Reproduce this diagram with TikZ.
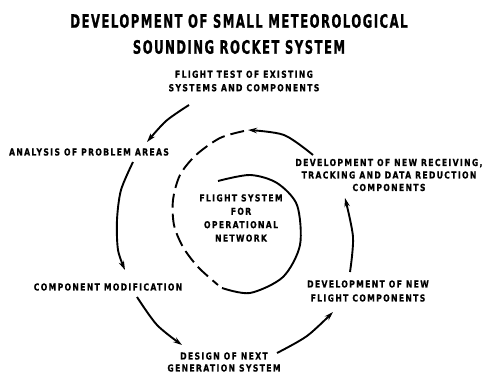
\documentclass[tikz,border=0pt]{standalone}
\usepackage{fontspec}
\usetikzlibrary{arrows.meta}
\newfontfamily\lblfont{DejaVu Sans}[FakeStretch=0.8,LetterSpace=14,BoldFeatures={FakeBold=0.6}]
\newfontfamily\ttlfont{DejaVu Sans}[FakeStretch=0.63,LetterSpace=8,BoldFeatures={FakeBold=0.9}]
\tikzset{
  lbl/.style={font=\lblfont\bfseries\fontsize{9.6}{13.5}\selectfont, align=center, inner sep=0pt},
  ttl/.style={font=\ttlfont\bfseries\fontsize{18.5}{26}\selectfont, align=center, inner sep=0pt},
  flow/.style={line width=1.9pt, -{Stealth[length=9pt,width=5.5pt]}},
  ring/.style={line width=1.9pt},
  dashring/.style={line width=1.9pt, dash pattern=on 14pt off 6pt}
}
\begin{document}
\begin{tikzpicture}[x=1pt,y=-1pt]
\useasboundingbox (0,0) rectangle (482,375);
\node[ttl] (title) at (239,34) {DEVELOPMENT OF SMALL METEOROLOGICAL\\SOUNDING ROCKET SYSTEM};
\node[lbl] (test) at (244,81) {FLIGHT TEST OF EXISTING\\SYSTEMS AND COMPONENTS};
\node[lbl] (analysis) at (89,152) {ANALYSIS OF PROBLEM AREAS};
\node[lbl, font=\lblfont\bfseries\fontsize{9.6}{13.4}\selectfont] (core) at (241,218) {FLIGHT SYSTEM\\FOR\\OPERATIONAL\\NETWORK};
\node[lbl, font=\lblfont\bfseries\fontsize{9.6}{12.5}\selectfont] (recv) at (389,175) {DEVELOPMENT OF NEW RECEIVING,\\TRACKING AND DATA REDUCTION\\COMPONENTS};
\node[lbl, font=\lblfont\bfseries\fontsize{9.6}{14}\selectfont] (newflt) at (368,291) {DEVELOPMENT OF NEW\\FLIGHT COMPONENTS};
\node[lbl] (compmod) at (108,287) {COMPONENT MODIFICATION};
\node[lbl, font=\lblfont\bfseries\fontsize{9.6}{12}\selectfont] (design) at (224,362) {DESIGN OF NEXT\\GENERATION SYSTEM};

\coordinate (a1s) at (189,105); \coordinate (a1e) at (147,142);
\coordinate (a2s) at (133,162); \coordinate (a2e) at (125,270);
\coordinate (a3s) at (137,297); \coordinate (a3e) at (182,345);
\coordinate (a4s) at (277,353); \coordinate (a4e) at (333,312);
\coordinate (a5s) at (350,272); \coordinate (a5e) at (345,198);
\coordinate (a6s) at (313,155); \coordinate (a6e) at (248,130);
\coordinate (ds) at (244,131); \coordinate (de) at (218,285);
\coordinate (is) at (222,288); \coordinate (ie) at (218,181);

\draw[flow] plot[smooth] coordinates {(a1s) (166,121) (a1e)};
\draw[flow] plot[smooth] coordinates {(a2s) (121,190) (117,220) (118,250) (a2e)};
\draw[flow] plot[smooth] coordinates {(a3s) (157,325) (a3e)};
\draw[flow] plot[smooth] coordinates {(a4s) (307,336) (a4e)};
\draw[flow] plot[smooth] coordinates {(a5s) (353,237) (a5e)};
\draw[flow] plot[smooth] coordinates {(a6s) (284,135) (a6e)};
\draw[dashring] plot[smooth] coordinates {(ds) (220,138) (196,155) (180,175) (173,200) (174,225) (183,247) (198,267) (de)};
\draw[ring] plot[smooth] coordinates {(is) (250,293) (283,277) (300,245) (297,205) (277,183) (250,175) (ie)};
\end{tikzpicture}
\end{document}
